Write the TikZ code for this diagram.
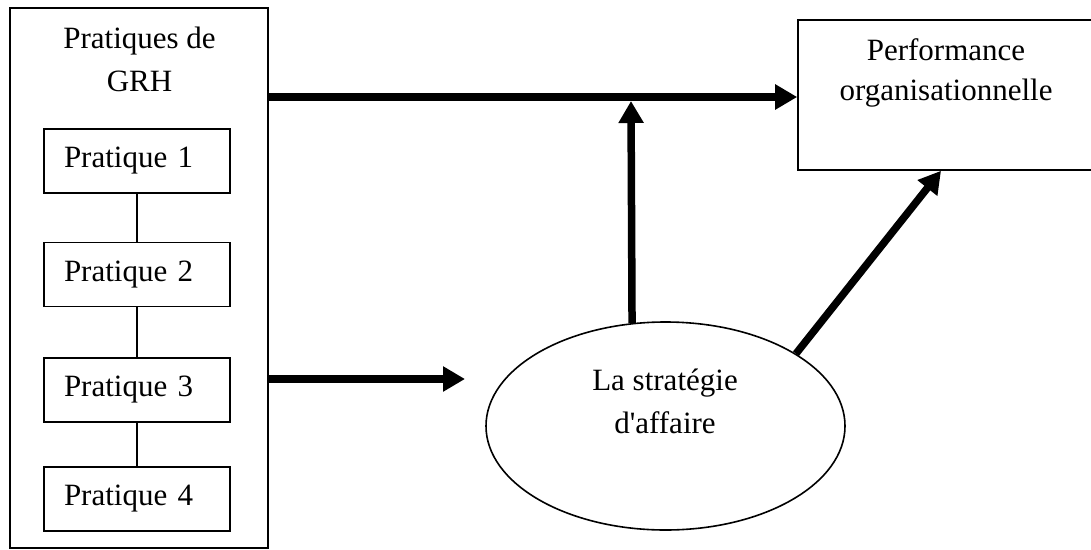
\documentclass[tikz,border=0pt]{standalone}
\usepackage{fontspec}
\newfontfamily\tnr{Liberation Serif}
\usetikzlibrary{arrows.meta,shapes.geometric}

\begin{document}
\begin{tikzpicture}[x=1pt,y=-1pt,
  every node/.style={font=\tnr\fontsize{31pt}{42pt}\selectfont},
  frame/.style={draw, line width=1.6pt, rectangle, inner sep=0pt},
  practice/.style={frame, minimum width=186pt, minimum height=64pt,
    text width=146pt, inner xsep=20pt, align=left},
  title/.style={anchor=base, align=center, inner sep=0pt},
  link/.style={line width=1.6pt},
  bigarrow/.style={line width=7.5pt, -{Triangle[length=22pt,width=24pt]}}
]
\useasboundingbox (0,0) rectangle (1091,549);

% left frame holding the HR practices
\node[frame, minimum width=258pt, minimum height=540pt] (outer) at (139,278) {};
% titles are anchored on the baseline of their last line
\node[title, font=\tnr\fontsize{31pt}{43pt}\selectfont] (grh) at (139.5,91) {Pratiques de\\GRH};

\node[practice] (p1) at (137,161)   {Pratique 1};
\node[practice] (p2) at (137,274.5) {Pratique 2};
\node[practice] (p3) at (137,390)   {Pratique 3};
\node[practice] (p4) at (137,499)   {Pratique 4};

\draw[link] (p1.south) -- (p2.north);
\draw[link] (p2.south) -- (p3.north);
\draw[link] (p3.south) -- (p4.north);

% outcome box (its right side runs past the page edge)
\node[frame, minimum width=296pt, minimum height=150pt] (perf) at (946,95) {};
\node[title, font=\tnr\fontsize{31pt}{40pt}\selectfont] (perftext) at (946,100) {Performance\\organisationnelle};

% business strategy
\node[draw, ellipse, line width=1.6pt, inner sep=0pt,
      minimum width=359pt, minimum height=208pt] (strat) at (665.5,426) {};
\node[title, font=\tnr\fontsize{31pt}{43pt}\selectfont] (strattext) at (665,433) {La stratégie\\d'affaire};

% arrows
\coordinate (topy) at (0,97);
\coordinate (join) at (631,101);
\coordinate (midtip) at (465,379);

\draw[bigarrow] (outer.east |- topy) -- (perf.west |- topy);
\draw[bigarrow] (strat.108.7) -- (join);
\draw[bigarrow] (strat.29) -- ([xshift=-5pt]perf.south);
\draw[bigarrow] (outer.east |- midtip) -- (midtip);
\end{tikzpicture}
\end{document}
